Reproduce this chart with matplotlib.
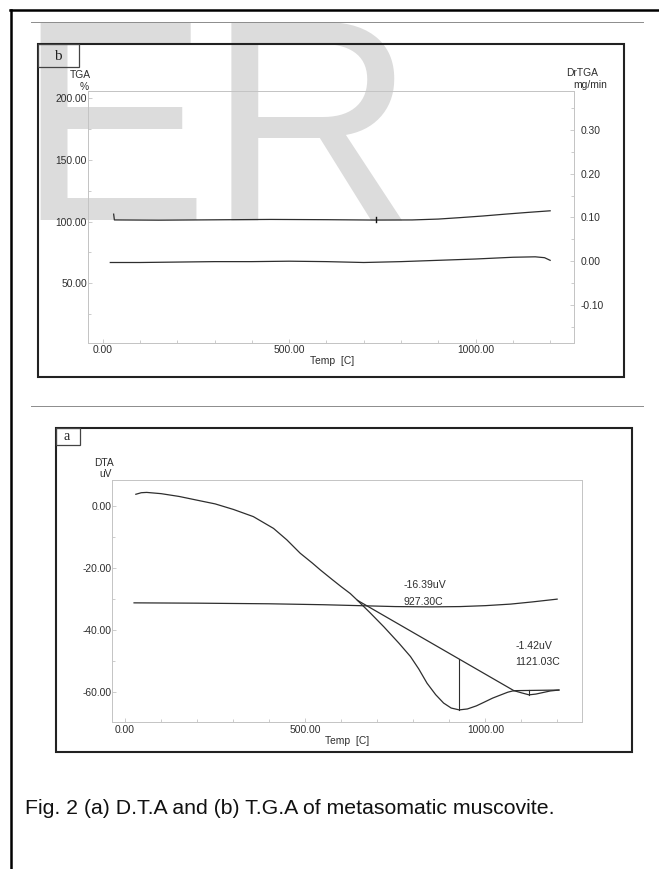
import numpy as np
import matplotlib
matplotlib.use("Agg")
import matplotlib.pyplot as plt
from matplotlib.lines import Line2D
from matplotlib.patches import Rectangle
from matplotlib.ticker import MultipleLocator, FormatStrFormatter

# ---------------- data ----------------
# (b) thermogravimetric run
tga_temp = [29, 31, 150, 300, 450, 600, 730, 830, 900, 960, 1020, 1080, 1140, 1200]
tga_pct = [106.0, 101.3, 101.1, 101.4, 101.7, 101.5, 101.2, 101.3, 102.0, 103.2, 104.5, 106.0, 107.4, 108.7]
tga_mark_temp = [734, 734]
tga_mark_pct = [99.8, 103.6]

drtga_temp = [20, 100, 200, 300, 400, 500, 600, 700, 800, 900, 1000, 1100, 1160, 1185, 1200]
drtga_rate = [-0.003, -0.003, -0.002, -0.001, -0.001, 0.000, -0.001, -0.003, -0.001, 0.002,
              0.005, 0.009, 0.010, 0.008, 0.002]

tga_left_ticks = [50, 100, 150, 200]
tga_right_ticks = [-0.10, 0.00, 0.10, 0.20, 0.30]
temp_ticks = [0, 500, 1000]

# (a) differential thermal analysis run
dta_temp = [30, 45, 60, 100, 150, 208, 250, 301, 356, 412, 449, 486, 520, 542, 575, 600,
            625, 645, 680, 718, 760, 792, 815, 838, 862, 884, 905, 927.30, 950, 975, 995,
            1020, 1042, 1062, 1079, 1100, 1121.03, 1140, 1160, 1180, 1204]
dta_uv = [3.8, 4.3, 4.4, 4.0, 3.1, 1.7, 0.7, -1.1, -3.4, -7.2, -10.9, -15.2, -18.4, -20.6,
          -23.7, -26.0, -28.2, -30.4, -34.4, -38.9, -44.2, -48.5, -52.5, -57.1, -60.8, -63.5,
          -65.1, -65.7, -65.4, -64.4, -63.3, -61.9, -60.9, -60.0, -59.5, -60.2, -60.85,
          -60.6, -60.1, -59.6, -59.3]

base1_temp = [645, 1079]
base1_uv = [-30.4, -59.5]
base2_temp = [1079, 1204]
base2_uv = [-59.5, -59.3]

ref_temp = [25, 200, 400, 550, 650, 750, 850, 930, 1000, 1070, 1130, 1199]
ref_uv = [-31.2, -31.3, -31.5, -31.8, -32.1, -32.4, -32.5, -32.4, -32.1, -31.6, -30.9, -30.0]

peak_temp = [927.30, 1121.03]
peak_height = [-16.39, -1.42]
peak_labels = [("-16.39uV", "927.30C"), ("-1.42uV", "1121.03C")]

dta_ticks = [-60, -40, -20, 0]

# ---------------- layout helpers ----------------
W, H = 659, 869
plt.rcParams['font.family'] = ['Liberation Sans', 'DejaVu Sans']
fig = plt.figure(figsize=(W / 100, H / 100), dpi=100)
fig.patch.set_facecolor('white')

INK = '#2e2e2e'
GRID = '#c4c4c4'
SMALL = 7.4


def fx(x):
    return x / W


def fy(y):
    return 1 - y / H


def fig_line(xs, ys, **kw):
    fig.add_artist(Line2D([fx(v) for v in xs], [fy(v) for v in ys],
                          transform=fig.transFigure, **kw))


def fig_rect(x0, y0, x1, y1, **kw):
    fig.add_artist(Rectangle((fx(x0), fy(y1)), fx(x1) - fx(x0), fy(y0) - fy(y1),
                             transform=fig.transFigure, fill=False, **kw))


def fig_text(x, y, s, **kw):
    fig.text(fx(x), fy(y), s, **kw)


# watermark behind everything
fig.text(fx(16), fy(220), "ER", fontsize=207, color='#dcdcdc', ha='left',
         va='baseline', zorder=-5, family='Liberation Sans')

# page border and rules
fig_line([10.5, 10.5], [10, 869], color='black', lw=1.8)
fig_line([10, 659], [10, 10], color='black', lw=1.8)
fig_line([31, 643], [22, 22], color='#8c8c8c', lw=0.7)
fig_line([31, 643], [406, 406], color='#8c8c8c', lw=0.7)


def style_axis(ax):
    ax.patch.set_alpha(0)
    for s in ax.spines.values():
        s.set_color(GRID)
        s.set_linewidth(0.7)
    ax.tick_params(which='both', direction='in', color=GRID, width=0.6,
                   labelsize=SMALL, labelcolor=INK)
    ax.tick_params(which='major', length=3)
    ax.tick_params(which='minor', length=2)


# ---------------- panel (b) ----------------
fig_rect(37.7, 44, 624, 376.7, color='#222222', lw=1.5)
fig_rect(37.7, 44, 79, 67, color='#444444', lw=0.9)
fig_text(58, 57, "b", family='Liberation Serif', fontsize=11, color='#222222',
         ha='center', va='center')

axb = fig.add_axes([fx(88.3), fy(342.5), fx(574) - fx(88.3), fy(90.7) - fy(342.5)])
style_axis(axb)
axb.plot(tga_temp, tga_pct, color=INK, lw=0.9)
axb.plot(tga_mark_temp, tga_mark_pct, color='#111111', lw=1.0)
axb.set_xlim(-39, 1264)
axb.set_ylim(2, 206)
axb.set_xticks(temp_ticks)
axb.xaxis.set_minor_locator(MultipleLocator(100))
axb.set_yticks(tga_left_ticks)
axb.yaxis.set_minor_locator(MultipleLocator(25))
axb.xaxis.set_major_formatter(FormatStrFormatter('%.2f'))
axb.yaxis.set_major_formatter(FormatStrFormatter('%.2f'))
axb.tick_params(axis='x', pad=2)
axb.tick_params(axis='y', pad=1)

axb2 = axb.twinx()
style_axis(axb2)
axb2.plot(drtga_temp, drtga_rate, color=INK, lw=0.9)
axb2.set_ylim(-0.186, 0.39)
axb2.set_yticks(tga_right_ticks)
axb2.yaxis.set_minor_locator(MultipleLocator(0.05))
axb2.yaxis.set_major_formatter(FormatStrFormatter('%.2f'))
axb2.tick_params(axis='y', pad=4.7)

fig_text(80, 75, "TGA", fontsize=SMALL, color=INK, ha='center', va='center')
fig_text(84, 87, "%", fontsize=SMALL, color=INK, ha='center', va='center')
fig_text(582, 73.3, "DrTGA", fontsize=SMALL, color=INK, ha='center', va='center')
fig_text(590, 85, "mg/min", fontsize=SMALL, color=INK, ha='center', va='center')
fig_text(332, 360.5, "Temp  [C]", fontsize=SMALL, color=INK, ha='center', va='center')

# ---------------- panel (a) ----------------
fig_rect(56, 428, 631.5, 752, color='#222222', lw=1.5)
fig_rect(56, 428, 80, 445.5, color='#444444', lw=0.9)
fig_text(67, 436.5, "a", family='Liberation Serif', fontsize=10, color='#222222',
         ha='center', va='center')

axa = fig.add_axes([fx(111.7), fy(722.3), fx(582) - fx(111.7), fy(480) - fy(722.3)])
style_axis(axa)
axa.plot(dta_temp, dta_uv, color=INK, lw=0.9)
axa.plot(base1_temp, base1_uv, color=INK, lw=0.9)
axa.plot(base2_temp, base2_uv, color=INK, lw=0.9)
axa.plot(ref_temp, ref_uv, color=INK, lw=0.9)

base_t = base1_temp + base2_temp[1:]
base_v = base1_uv + base2_uv[1:]
for t, h in zip(peak_temp, peak_height):
    b = np.interp(t, base_t, base_v)
    axa.plot([t, t], [b, b + h], color=INK, lw=0.8)

axa.set_xlim(-37, 1268)
axa.set_ylim(-69.7, 8.4)
axa.set_xticks(temp_ticks)
axa.xaxis.set_minor_locator(MultipleLocator(100))
axa.set_yticks(dta_ticks)
axa.yaxis.set_minor_locator(MultipleLocator(10))
axa.xaxis.set_major_formatter(FormatStrFormatter('%.2f'))
axa.yaxis.set_major_formatter(FormatStrFormatter('%.2f'))
axa.tick_params(axis='x', pad=2)
axa.tick_params(axis='y', pad=0)

# peak annotations, placed in pixel space
label_pos = [(404, 585, 601.7), (515.7, 646, 661.7)]
for (top, bottom), (x, y1, y2) in zip(peak_labels, label_pos):
    fig_text(x, y1, top, fontsize=7.6, color=INK, ha='left', va='center')
    fig_text(x, y2, bottom, fontsize=7.6, color=INK, ha='left', va='center')

fig_text(104, 462.7, "DTA", fontsize=SMALL, color=INK, ha='center', va='center')
fig_text(106, 474, "uV", fontsize=SMALL, color=INK, ha='center', va='center')
fig_text(347, 741.5, "Temp  [C]", fontsize=SMALL, color=INK, ha='center', va='center')

# caption
fig_text(25, 808, "Fig. 2 (a) D.T.A and (b) T.G.A of metasomatic muscovite.",
         fontsize=15.3, color='#111111', ha='left', va='center')

fig.savefig("out.png", dpi=100, facecolor='white')
